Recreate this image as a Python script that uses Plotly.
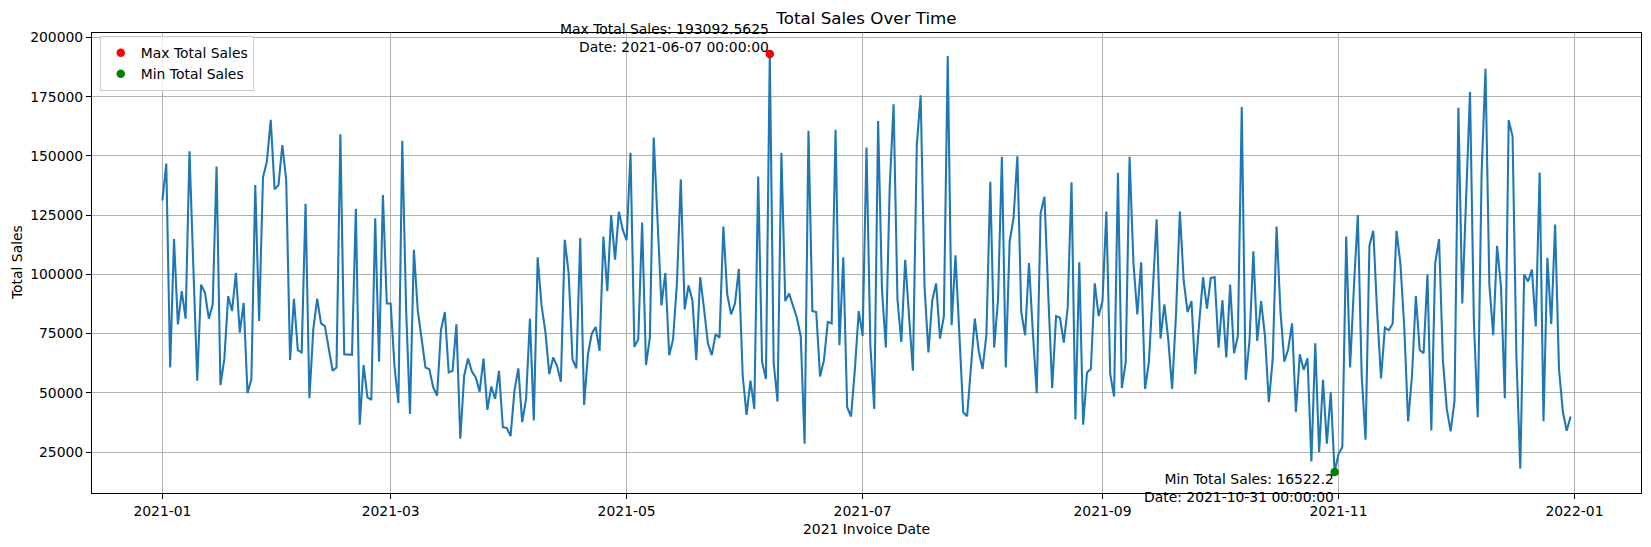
import pandas as pd
import plotly.graph_objects as go

# Daily total sales, 2021 (one list per month)
jan = [131200, 146800, 60700, 114900, 78900, 92900, 81300, 152000, 103000, 55100,
       95700, 92200, 81300, 87300, 145500, 53300, 64200, 90800, 84500, 100600,
       75400, 88000, 49800, 55800, 137700, 80300, 141000, 147600, 165300, 135900, 137700]
feb = [154600, 139800, 63900, 89700, 68000, 67000, 129800, 47700, 76800, 89700,
       79300, 78200, 68400, 59300, 60700, 159200, 66300, 66300, 66000, 127700,
       36500, 61700, 48100, 47000, 123700, 63100, 133500, 87700]
mar = [87700, 61100, 45600, 156400, 85000, 41100, 110400, 84900, 71900, 60700,
       60000, 52300, 48800, 76500, 84100, 58600, 59300, 78900, 30600, 57200,
       64500, 59000, 56500, 50500, 64500, 42800, 52600, 47400, 59300, 35500, 35200]
apr = [31700, 50900, 60300, 37600, 47400, 81300, 38300, 107200, 86900, 75700,
       57900, 64900, 61400, 54700, 114600, 100600, 64200, 60300, 115300, 44900,
       66300, 75100, 77800, 67700, 116000, 92900, 125100, 106200, 126500, 118800]
may = [114400, 151300, 69400, 72600, 121900, 61700, 73300, 157800, 122000, 86900,
       100600, 65900, 72600, 96400, 140100, 85200, 95300, 89000, 63800, 98800,
       85500, 70900, 65900, 74700, 73300, 120200, 91500, 83100, 87700, 102300, 57200]
jun = [40700, 55100, 43200, 141300, 63100, 55800, 193092.5625, 62800, 46300, 151300,
       88700, 91900, 86900, 81700, 74000, 28500, 160600, 84500, 84100, 56900,
       63800, 79900, 79300, 161100, 70100, 107200, 43900, 40000, 60000, 84500]
jul = [74000, 153600, 70000, 43200, 164800, 93600, 69100, 137000, 171800, 89400,
       71500, 106200, 82400, 59300, 154600, 175600, 95000, 67000, 89100, 96200,
       72900, 82400, 192200, 78500, 108100, 76800, 41800, 40100, 60000, 81300, 67700]
aug = [60000, 74700, 139100, 69100, 89400, 149700, 60700, 113900, 123700, 149900,
       84100, 74300, 104800, 75400, 49800, 125800, 132800, 90800, 52000, 82400,
       81700, 71200, 85900, 138900, 38700, 105100, 36500, 58600, 60000, 96200, 82400]
sep = [88700, 126500, 57900, 48400, 142900, 52000, 62800, 149700, 104800, 83100,
       105100, 51600, 63100, 90800, 123300, 72900, 87300, 72600, 51600, 83000,
       126500, 97100, 84100, 88700, 57900, 79600, 98800, 85500, 98500, 98800]
oct_ = [69100, 89100, 64900, 95700, 66700, 74000, 170700, 55500, 71900, 109700,
        71900, 88700, 74000, 46000, 64200, 120200, 84500, 63100, 68400, 79300,
        41800, 66300, 59700, 64600, 21000, 70900, 25000, 55500, 28500, 50200, 16522.2]
nov = [24000, 27100, 116000, 60700, 95000, 125100, 57200, 30200, 112100, 118400,
       83800, 56100, 77500, 76400, 79200, 118400, 104800, 78000, 37900, 57200,
       90800, 68100, 66700, 99900, 34100, 104800, 114900, 63500, 43200, 33700]
dec = [46700, 170400, 87700, 135000, 177000, 80000, 39700, 142600, 186800, 95700,
       74300, 112100, 95000, 47700, 165100, 158300, 65000, 18000, 100000, 97000,
       102000, 78000, 143000, 38000, 107000, 79000, 121000, 60000, 42000, 34000, 40000]

sales = jan + feb + mar + apr + may + jun + jul + aug + sep + oct_ + nov + dec
dates = pd.date_range("2021-01-01", periods=len(sales), freq="D")
df = pd.DataFrame({"date": dates, "sales": sales})

imax = df["sales"].idxmax()
imin = df["sales"].idxmin()
max_date, max_val = df.loc[imax, "date"], df.loc[imax, "sales"]
min_date, min_val = df.loc[imin, "date"], df.loc[imin, "sales"]

FONT = "DejaVu Sans"
FS = 13.9

fig = go.Figure()
fig.add_trace(go.Scatter(x=df["date"], y=df["sales"], mode="lines",
                         line=dict(color="#1f77b4", width=2.08), showlegend=False,
                         hoverinfo="skip"))
fig.add_trace(go.Scatter(x=[max_date], y=[max_val], mode="markers",
                         marker=dict(color="red", size=8.5), name="Max Total Sales"))
fig.add_trace(go.Scatter(x=[min_date], y=[min_val], mode="markers",
                         marker=dict(color="green", size=8.5), name="Min Total Sales"))

fig.add_annotation(x=max_date, y=max_val, xref="x", yref="y",
                   text=f"Max Total Sales: {max_val}<br>Date: {max_date}",
                   showarrow=False, xanchor="right", yanchor="bottom", align="right",
                   font=dict(family=FONT, size=FS, color="black"), borderpad=0, yshift=-2)
fig.add_annotation(x=min_date, y=min_val, xref="x", yref="y",
                   text=f"Min Total Sales: {min_val}<br>Date: {min_date}",
                   showarrow=False, xanchor="right", yanchor="top", align="right",
                   font=dict(family=FONT, size=FS, color="black"), borderpad=0, yshift=2)

# axis titles
fig.add_annotation(text="2021 Invoice Date", xref="paper", yref="paper", x=0.5, y=-0.0775,
                   xanchor="center", yanchor="middle", showarrow=False,
                   font=dict(family=FONT, size=FS, color="black"))
fig.add_annotation(text="Total Sales", xref="paper", yref="paper", x=-0.0484, y=0.5,
                   xanchor="center", yanchor="middle", showarrow=False, textangle=-90,
                   font=dict(family=FONT, size=FS, color="black"))

axis_common = dict(showline=True, linecolor="black", linewidth=1.1, mirror=True,
                   ticks="outside", ticklen=5, tickwidth=1.1, tickcolor="black",
                   showgrid=True, gridcolor="#b0b0b0", gridwidth=1.1, zeroline=False,
                   tickfont=dict(family=FONT, size=FS, color="black"))

fig.update_layout(
    width=1651, height=547,
    margin=dict(l=92, r=10, t=33, b=54),
    paper_bgcolor="white", plot_bgcolor="white",
    font=dict(family=FONT, size=FS, color="black"),
    title=dict(text="Total Sales Over Time", x=0.5 * (92 + 1641) / 1651, xanchor="center",
               y=1 - 18.5 / 547, yanchor="middle", yref="container",
               font=dict(family=FONT, size=16.7, color="black")),
    xaxis=dict(type="date", range=["2020-12-13 19:12", "2022-01-18 04:48"],
               tick0="2021-01-01", dtick="M2", tickformat="%Y-%m", **axis_common),
    yaxis=dict(range=[7694, 201921], tickmode="array",
               tickvals=list(range(25000, 200001, 25000)), tickformat="d", **axis_common),
    legend=dict(x=0.005, y=0.993, xanchor="left", yanchor="top",
                bordercolor="#cccccc", borderwidth=1, bgcolor="rgba(255,255,255,0.8)",
                font=dict(family=FONT, size=FS, color="black"), tracegroupgap=0),
    showlegend=True,
)

fig.write_html("out.html", config={"displayModeBar": False},
               post_script="document.body.style.margin='0px';document.body.style.padding='0px';")
